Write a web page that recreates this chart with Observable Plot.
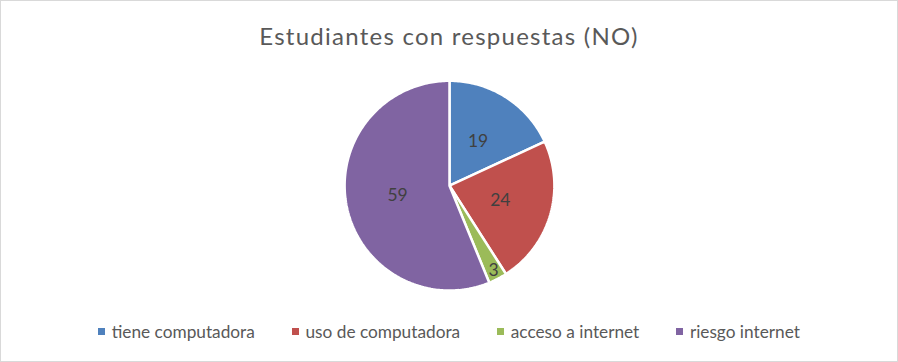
<!DOCTYPE html>
<html>
<head>
<meta charset="utf-8">
<script src="https://cdn.jsdelivr.net/npm/d3@7"></script>
<script src="https://cdn.jsdelivr.net/npm/@observablehq/plot@0.6"></script>
<style>
  html, body { margin: 0; padding: 0; background: #fff; }
  #chart {
    position: relative; width: 898px; height: 362px; box-sizing: border-box;
    border: 1px solid #d9d9d9; background: #fff; font-family: Lato, "Open Sans", sans-serif;
  }
  #title {
    position: absolute; left: 0; right: 0; top: 20px; text-align: center;
    font-size: 24px; letter-spacing: 1.25px; color: #595959; font-weight: 400; white-space: nowrap;
  }
  #plot { position: absolute; left: -1px; top: 63px; }
  #legend {
    position: absolute; left: 0; right: 0; top: 320px; display: flex; justify-content: center;
    gap: 37px; font-size: 17.25px; color: #595959; white-space: nowrap;
  }
  #legend .item { display: flex; align-items: center; }
  #legend .sw { width: 7px; height: 7px; margin-right: 6.6px; }
</style>
</head>
<body>
<div id="chart">
  <div id="title"></div>
  <div id="plot"></div>
  <div id="legend"></div>
</div>
<script>
const title = "Estudiantes con respuestas (NO)";
const categories = ["tiene computadora", "uso de computadora", "acceso a internet", "riesgo internet"];
const values = [19, 24, 3, 59];
const colors = ["#4F81BD", "#C0504D", "#9BBB59", "#8064A2"];

const data = categories.map((name, i) => ({name, value: values[i]}));
const arcs = d3.pie().sort(null).value(d => d.value)(data);

const R = 105;
const pts = [];
for (const a of arcs) {
  pts.push({name: a.data.name, x: 0, y: 0});
  const n = Math.max(4, Math.ceil((a.endAngle - a.startAngle) * 60));
  for (let k = 0; k <= n; k++) {
    const t = a.startAngle + (a.endAngle - a.startAngle) * k / n;
    pts.push({name: a.data.name, x: R * Math.sin(t), y: R * Math.cos(t)});
  }
}
const total = d3.sum(values);
const labels = arcs.map(a => {
  const m = (a.startAngle + a.endAngle) / 2;
  const r = a.data.value / total < 0.05 ? 0.91 * R : 0.505 * R;
  return {text: String(a.data.value), x: r * Math.sin(m), y: r * Math.cos(m)};
});

const W = 898, H = 240, CX = 449.5, CY = 121.3;
const plot = Plot.plot({
  width: W, height: H,
  marginTop: 0, marginBottom: 0, marginLeft: 0, marginRight: 0,
  x: {domain: [-CX, W - CX], axis: null},
  y: {domain: [-(H - CY), CY], axis: null},
  color: {domain: categories, range: colors},
  style: {fontFamily: "Lato, 'Open Sans', sans-serif", background: "transparent"},
  marks: [
    Plot.line(pts, {x: "x", y: "y", z: "name", fill: "name", stroke: "white", strokeWidth: 2.5, curve: "linear-closed", strokeLinejoin: "miter"}),
    Plot.text(labels, {x: "x", y: "y", text: "text", fill: "#404040", fontSize: 17.5})
  ]
});
document.getElementById("plot").appendChild(plot);
document.getElementById("title").textContent = title;
const leg = document.getElementById("legend");
categories.forEach((c, i) => {
  const it = document.createElement("div"); it.className = "item";
  const sw = document.createElement("span"); sw.className = "sw"; sw.style.background = colors[i];
  const tx = document.createElement("span"); tx.textContent = c;
  it.appendChild(sw); it.appendChild(tx); leg.appendChild(it);
});
</script>
</body>
</html>
